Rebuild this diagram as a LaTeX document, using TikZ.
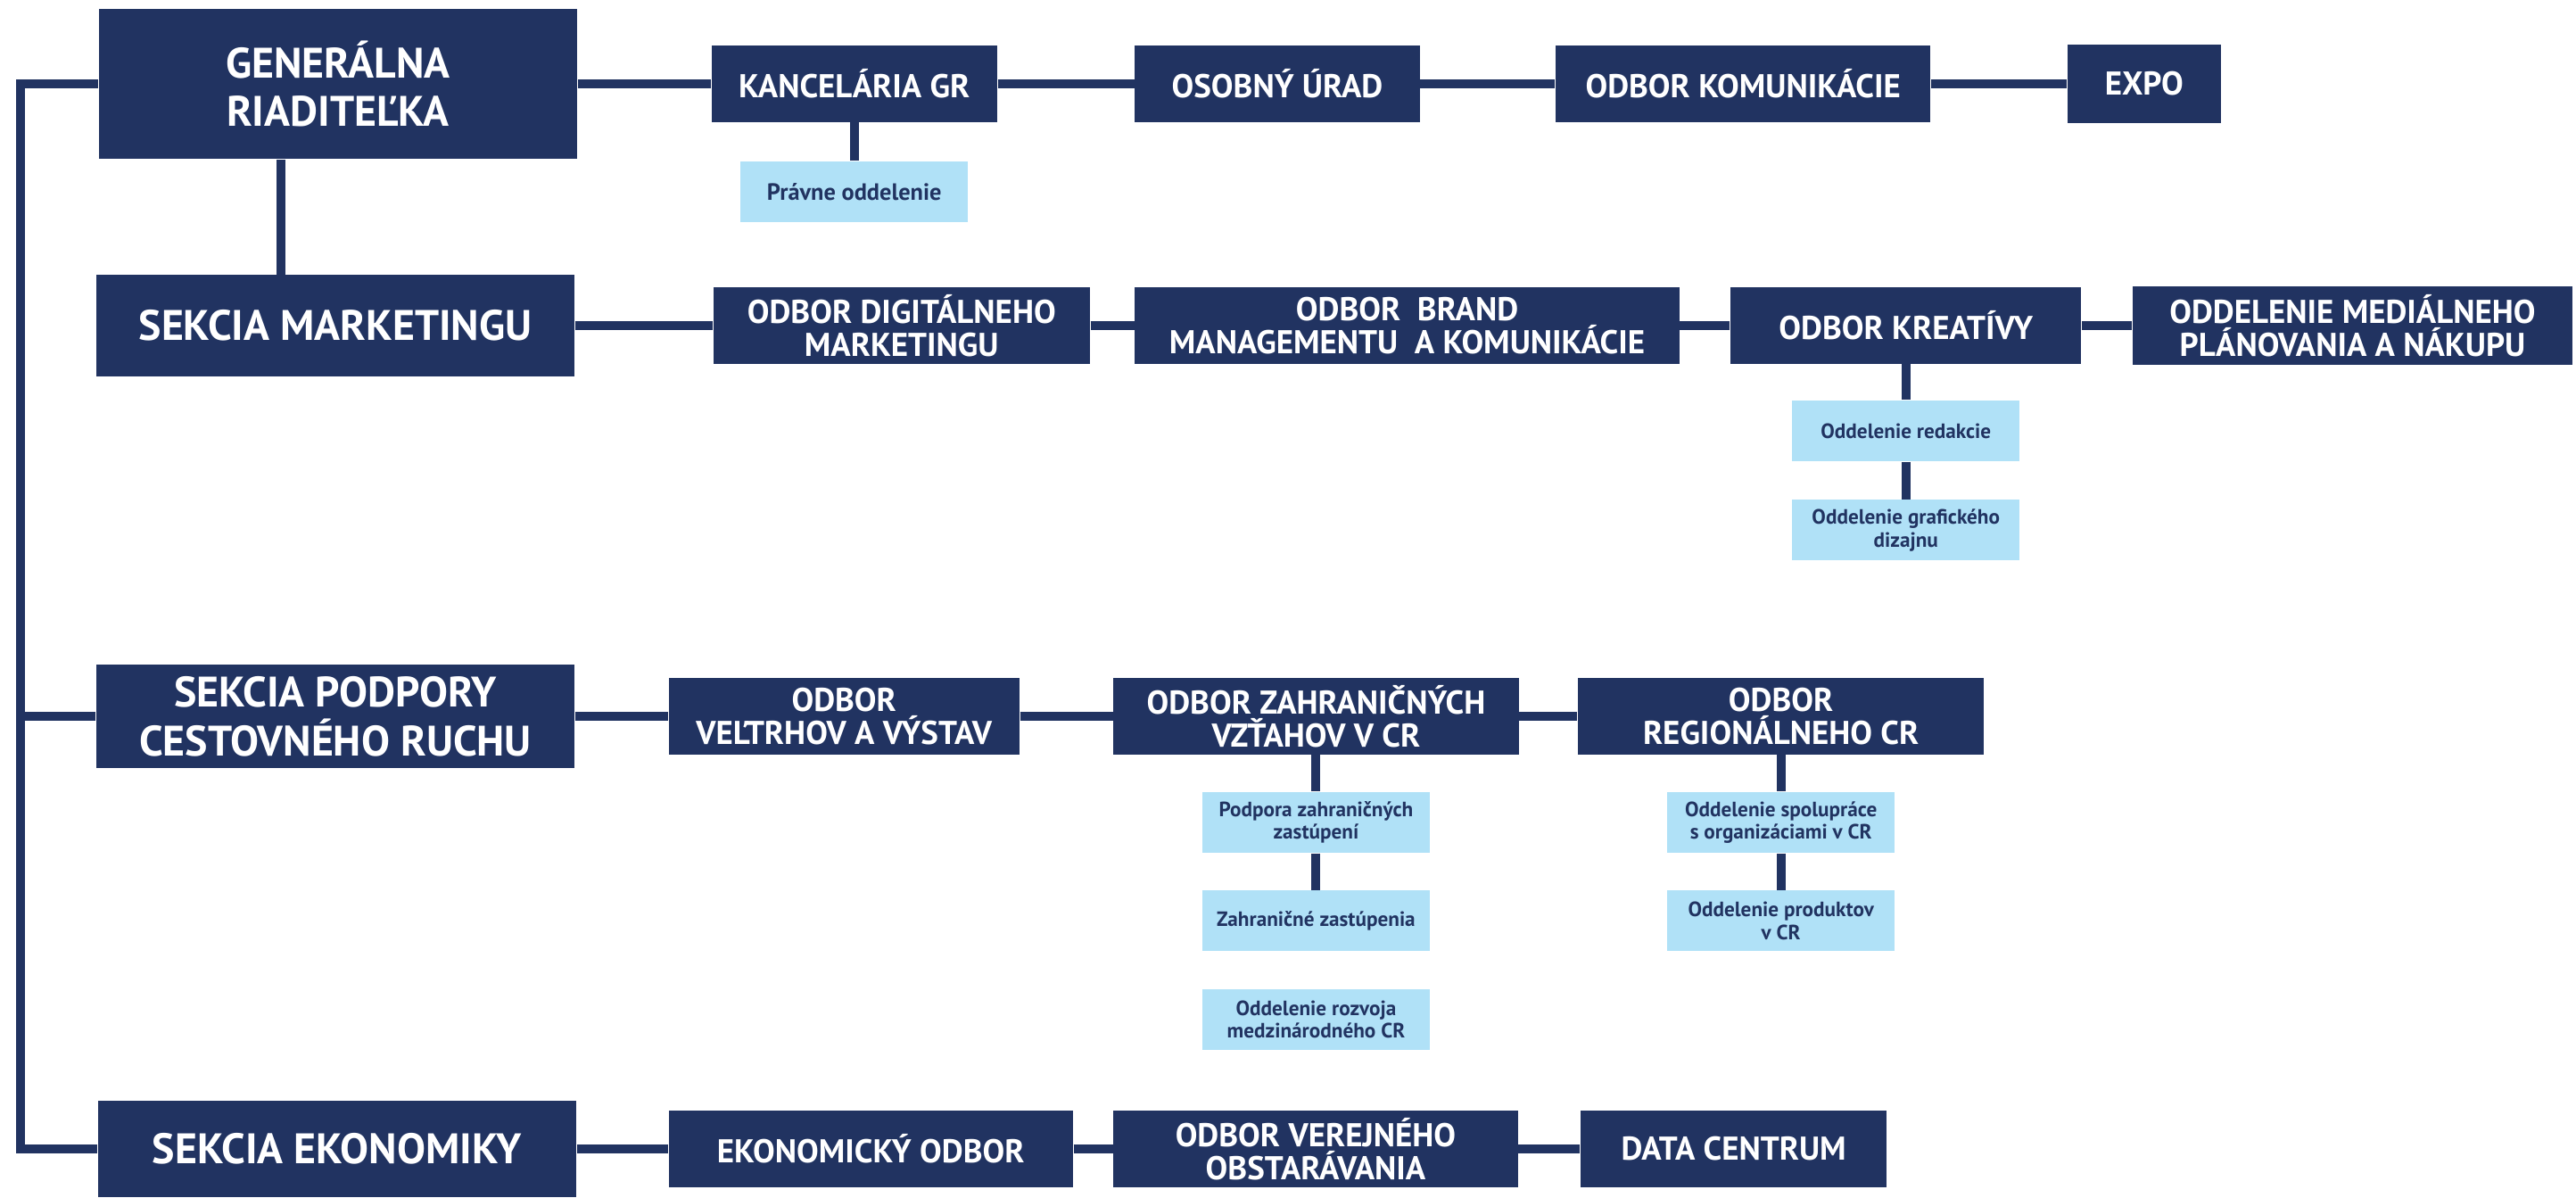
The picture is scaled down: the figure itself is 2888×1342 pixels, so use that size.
\documentclass[tikz,border=0pt]{standalone}
\usepackage{fontspec}
\setmainfont{PT Sans}
\usepackage{xcolor}
\usepackage{tikz}
\usetikzlibrary{positioning}
\definecolor{navy}{RGB}{33,51,97}
\definecolor{skyblue}{RGB}{176,225,247}
\tikzset{link/.style = {draw=navy, line width=0.1cm}}

\begin{document}
\begin{tikzpicture}[x=0.01cm,y=-0.01cm,every node/.style={inner sep=0pt,align=center},
  sec/.style={fill=navy,text=white,minimum width=5.36cm,font=\bfseries\fontsize{13.6}{15.6}\selectfont},
  dept/.style={fill=navy,text=white,minimum height=0.85cm,font=\bfseries\fontsize{10.5}{10.6}\selectfont},
  unit/.style={fill=skyblue,text=navy,minimum width=2.55cm,minimum height=0.68cm,font=\bfseries\fontsize{6.6}{7.2}\selectfont}]
                \useasboundingbox (0,0) rectangle (2888,1342);

                \node[sec, minimum height=1.68cm] (gr) at (379,94) {GENERÁLNA\\RIADITEĽKA};
                \node[dept, minimum width=3.2cm] (kanc) [right=1.49cm of gr] {KANCELÁRIA GR};
                \node[dept, minimum width=3.19cm] (osob) [right=1.53cm of kanc] {OSOBNÝ ÚRAD};
                \node[dept, minimum width=4.2cm] (kom) [right=1.51cm of osob] {ODBOR KOMUNIKÁCIE};
                \node[dept, minimum width=1.72cm, minimum height=0.87cm] (expo) [right=1.52cm of kom] {EXPO};
                \node[unit, font=\bfseries\fontsize{7.5}{8}\selectfont] (pravne) [below=0.43cm of kanc] {Právne oddelenie};

                \node[sec, minimum height=1.13cm] (sm) at (376,365) {SEKCIA MARKETINGU};
                \node[dept, minimum width=4.22cm] (dig) [right=1.54cm of sm] {ODBOR DIGITÁLNEHO\\MARKETINGU};
                \node[dept, minimum width=6.1cm] (brand) [right=0.49cm of dig] {ODBOR\ \ BRAND\\MANAGEMENTU\ \ A KOMUNIKÁCIE};
                \node[dept, minimum width=3.93cm] (kreat) [right=0.56cm of brand] {ODBOR KREATÍVY};
                \node[dept, minimum width=4.93cm, minimum height=0.87cm] (med) [right=0.56cm of kreat] {ODDELENIE MEDIÁLNEHO\\PLÁNOVANIA A NÁKUPU};
                \node[unit] (redak) [below=0.40cm of kreat] {Oddelenie redakcie};
                \node[unit] (graf) [below=0.42cm of redak] {Oddelenie grafického\\dizajnu};

                \node[sec, minimum height=1.15cm] (sp) at (376,803) {SEKCIA PODPORY\\CESTOVNÉHO RUCHU};
                \node[dept, minimum width=3.93cm] (vel) [right=1.04cm of sp] {ODBOR\\VEĽTRHOV A VÝSTAV};
                \node[dept, minimum width=4.54cm] (zahr) [right=1.04cm of vel] {ODBOR ZAHRANIČNÝCH\\VZŤAHOV V CR};
                \node[dept, minimum width=4.55cm] (reg) [right=0.65cm of zahr] {ODBOR\\REGIONÁLNEHO CR};
                \node[unit] (podp) [below=0.41cm of zahr] {Podpora zahraničných\\zastúpení};
                \node[unit] (zzast) [below=0.41cm of podp] {Zahraničné zastúpenia};
                \node[unit] (rozv) [below=0.41cm of zzast] {Oddelenie rozvoja\\medzinárodného CR};
                \node[unit] (spol) [below=0.41cm of reg] {Oddelenie spolupráce\\s organizáciami v CR};
                \node[unit] (prod) [below=0.41cm of spol] {Oddelenie produktov\\v CR};

                \node[sec, minimum height=1.08cm] (se) at (378,1288) {SEKCIA EKONOMIKY};
                \node[dept, minimum width=4.53cm] (ekon) [right=1.02cm of se] {EKONOMICKÝ ODBOR};
                \node[dept, minimum width=4.53cm] (ver) [right=0.44cm of ekon] {ODBOR VEREJNÉHO\\OBSTARÁVANIA};
                \node[dept, minimum width=3.43cm] (data) [right=0.69cm of ver] {DATA CENTRUM};

                \coordinate (spine) at (23,0);
                \coordinate (grsm) at (315,0);

                \draw[link] (gr.west) -| (spine |- se.west) -- (se.west);
                \draw[link] (sp.west) -- (spine |- sp.west);
                \draw[link] (gr.south -| grsm) -- (sm.north -| grsm);

                \path[link] (gr) edge (kanc);
                \path[link] (kanc) edge (osob);
                \path[link] (osob) edge (kom);
                \path[link] (kom) edge (expo);
                \path[link] (kanc) edge (pravne);
                \path[link] (sm) edge (dig);
                \path[link] (dig) edge (brand);
                \path[link] (brand) edge (kreat);
                \path[link] (kreat) edge (med);
                \path[link] (kreat) edge (redak);
                \path[link] (redak) edge (graf);
                \path[link] (sp) edge (vel);
                \path[link] (vel) edge (zahr);
                \path[link] (zahr) edge (reg);
                \path[link] (zahr) edge (podp);
                \path[link] (podp) edge (zzast);
                \path[link] (reg) edge (spol);
                \path[link] (spol) edge (prod);
                \path[link] (se) edge (ekon);
                \path[link] (ekon) edge (ver);
                \path[link] (ver) edge (data);
            \end{tikzpicture}
\end{document}
